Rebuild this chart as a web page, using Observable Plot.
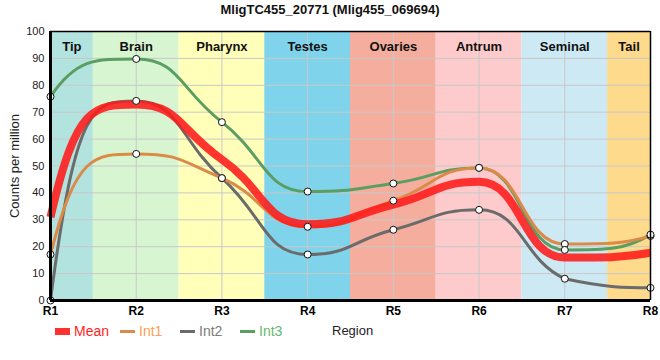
<!DOCTYPE html>
<html>
<head>
<meta charset="utf-8">
<script src="https://cdn.jsdelivr.net/npm/d3@7"></script>
<script src="https://cdn.jsdelivr.net/npm/@observablehq/plot@0.6"></script>
<style>
  body { margin: 0; background: #fff; font-family: "Liberation Sans", Arial, sans-serif; }
  #title { height: 20px; line-height: 20px; text-align: center; font-weight: bold; font-size: 13px; color: #111; }
  #legend { position: relative; height: 22px; margin-top: 0; font-size: 14px; }
  #legend .sw { position: absolute; }
  #legend .lb { position: absolute; top: 2px; line-height: 18px; }
</style>
</head>
<body>
<div id="title">MligTC455_20771 (Mlig455_069694)</div>
<div id="chart"></div>
<div id="legend"></div>
<script>
// ---- data ----
const regions = ["R1", "R2", "R3", "R4", "R5", "R6", "R7", "R8"];
const regionPos = [1, 2, 3, 4, 5, 6, 7, 8];
const int1 = [17.1, 54.5, 45.5, 27.4, 37.1, 49.3, 21.0, 24.0];
const int2 = [0.0, 74.2, 45.5, 17.1, 26.3, 33.7, 8.1, 4.7];
const int3 = [75.8, 89.8, 66.3, 40.5, 43.5, 49.3, 18.8, 24.5];
const tissues = ["Tip", "Brain", "Pharynx", "Testes", "Ovaries", "Antrum", "Seminal", "Tail"];
const tissueStart = [1, 1.5, 2.5, 3.5, 4.5, 5.5, 6.5, 7.5];
const tissueEnd = [1.5, 2.5, 3.5, 4.5, 5.5, 6.5, 7.5, 8];
const tissueColors = ["#b3e3df", "#d7f5d0", "#ffffba", "#7fd4eb", "#f5ad9e", "#fdcbcb", "#cdeaf4", "#fdda8c"];
const seriesNames = ["Mean", "Int1", "Int2", "Int3"];
const seriesColors = ["#ff1a1a", "#db8a4a", "#6b6b6b", "#5a9e62"];
const yTicks = [0, 10, 20, 30, 40, 50, 60, 70, 80, 90, 100];

// ---- tables ----
const meanVals = regionPos.map((_, i) => (int1[i] + int2[i] + int3[i]) / 3);
const seriesVals = { Mean: meanVals, Int1: int1, Int2: int2, Int3: int3 };
const rows = seriesNames.flatMap(s => regionPos.map((x, i) => ({ series: s, x, value: seriesVals[s][i] })));
const bands = tissues.map((t, i) => ({ tissue: t, x1: tissueStart[i], x2: tissueEnd[i], mid: (tissueStart[i] + tissueEnd[i]) / 2 }));
const colorOf = s => seriesColors[seriesNames.indexOf(s)];

// Smooth "function"-style curve: flat tangents at local extrema, long handles,
// control points clamped between neighbours (no overshoot).
function smoothCurve(context) {
  let pts = [];
  return {
    areaStart() {}, areaEnd() {},
    lineStart() { pts = []; },
    point(x, y) { pts.push([+x, +y]); },
    lineEnd() {
      const n = pts.length;
      if (!n) return;
      context.moveTo(pts[0][0], pts[0][1]);
      if (n === 1) return;
      if (n === 2) { context.lineTo(pts[1][0], pts[1][1]); return; }
      const A = 0.5, B = 0.3;
      const clamp = (v, a, b) => Math.max(Math.min(a, b), Math.min(Math.max(a, b), v));
      const outH = [], inH = [];
      for (let i = 1; i < n - 1; i++) {
        const [x0, y0] = pts[i - 1], [x, y] = pts[i], [x2, y2] = pts[i + 1];
        const s = (y - y0) * (y2 - y) <= 0 ? 0 : (y2 - y0) / (x2 - x0);
        const dxR = x2 - x, dxL = x - x0;
        outH[i] = [x + A * dxR, clamp(y + s * A * dxR, y, y2)];
        inH[i] = [x - A * dxL, clamp(y - s * A * dxL, y, y0)];
      }
      outH[0] = [pts[0][0] + B * (pts[1][0] - pts[0][0]), inH[1][1]];
      inH[n - 1] = [pts[n - 1][0] - B * (pts[n - 1][0] - pts[n - 2][0]), outH[n - 2][1]];
      for (let i = 0; i < n - 1; i++) {
        context.bezierCurveTo(outH[i][0], outH[i][1], inH[i + 1][0], inH[i + 1][1], pts[i + 1][0], pts[i + 1][1]);
      }
    }
  };
}

const lineOf = (s, w, extra = {}) => Plot.line(rows.filter(d => d.series === s), {
  x: "x", y: "value", stroke: colorOf(s), strokeWidth: w, curve: smoothCurve, ...extra
});

const chart = Plot.plot({
  width: 660,
  height: 300,
  marginTop: 11,
  marginBottom: 20,
  marginLeft: 50,
  marginRight: 10,
  style: { fontFamily: "'Liberation Sans', Arial, sans-serif", background: "transparent" },
  x: { domain: [1, 8] },
  y: { domain: [0, 100] },
  marks: [
    Plot.rectX(bands, { x1: "x1", x2: "x2", y1: 0, y2: 100, fill: (d, i) => tissueColors[i] }),
    Plot.ruleY(yTicks, { stroke: "#c8c8c8", strokeWidth: 1 }),
    Plot.ruleX(regionPos, { stroke: "#c8c8c8", strokeWidth: 1 }),
    Plot.text(bands, { x: "mid", frameAnchor: "top", dy: 10, text: "tissue", fontWeight: "bold", fontSize: 13, fill: "#111" }),
    lineOf("Int3", 3),
    lineOf("Int2", 3),
    lineOf("Int1", 3),
    lineOf("Mean", 8, { strokeOpacity: 0.88, strokeLinecap: "butt" }),
    Plot.dot(rows.filter(d => d.series !== "Mean"), { x: "x", y: "value", r: 3.5, fill: "white", stroke: "#111", strokeWidth: 1 }),
    Plot.ruleX([1], { stroke: "#000", strokeWidth: 3 }),
    Plot.ruleX([8], { stroke: "#000", strokeWidth: 1.5 }),
    Plot.ruleY([100], { stroke: "#000", strokeWidth: 1.5 }),
    Plot.ruleY([0], { stroke: "#000", strokeWidth: 3 }),
    Plot.axisX({ ticks: regionPos, tickFormat: d => regions[d - 1], tickSize: 0, tickPadding: 6, fontSize: 12, fontWeight: "bold", label: null, fill: "#000" }),
    Plot.axisY({ ticks: yTicks, tickSize: 0, tickPadding: 6, fontSize: 11, label: "Counts per million", labelAnchor: "center", labelOffset: 41, labelArrow: "none", fill: "#222" })
  ]
});
chart.querySelectorAll('[aria-label="y-axis label"] text').forEach(t => t.setAttribute("font-size", 13));
document.getElementById("chart").appendChild(chart);

// ---- legend ----
const legend = document.getElementById("legend");
const legendLeft = [55, 120, 180, 240];
seriesNames.forEach((s, i) => {
  const sw = document.createElement("div");
  sw.className = "sw";
  const thick = s === "Mean";
  sw.style.left = legendLeft[i] + "px";
  sw.style.width = "15px";
  sw.style.height = thick ? "7px" : "3px";
  sw.style.top = thick ? "8px" : "10px";
  sw.style.background = colorOf(s);
  sw.style.opacity = thick ? 0.9 : 1;
  legend.appendChild(sw);
  const lb = document.createElement("div");
  lb.className = "lb";
  lb.style.left = (legendLeft[i] + 19) + "px";
  lb.style.color = d3.color(colorOf(s)).brighter(0.4).formatHex();
  lb.textContent = s;
  legend.appendChild(lb);
});
const reg = document.createElement("div");
reg.className = "lb";
reg.style.left = "332px";
reg.style.fontSize = "13px";
reg.style.color = "#222";
reg.textContent = "Region";
legend.appendChild(reg);
</script>
</body>
</html>
